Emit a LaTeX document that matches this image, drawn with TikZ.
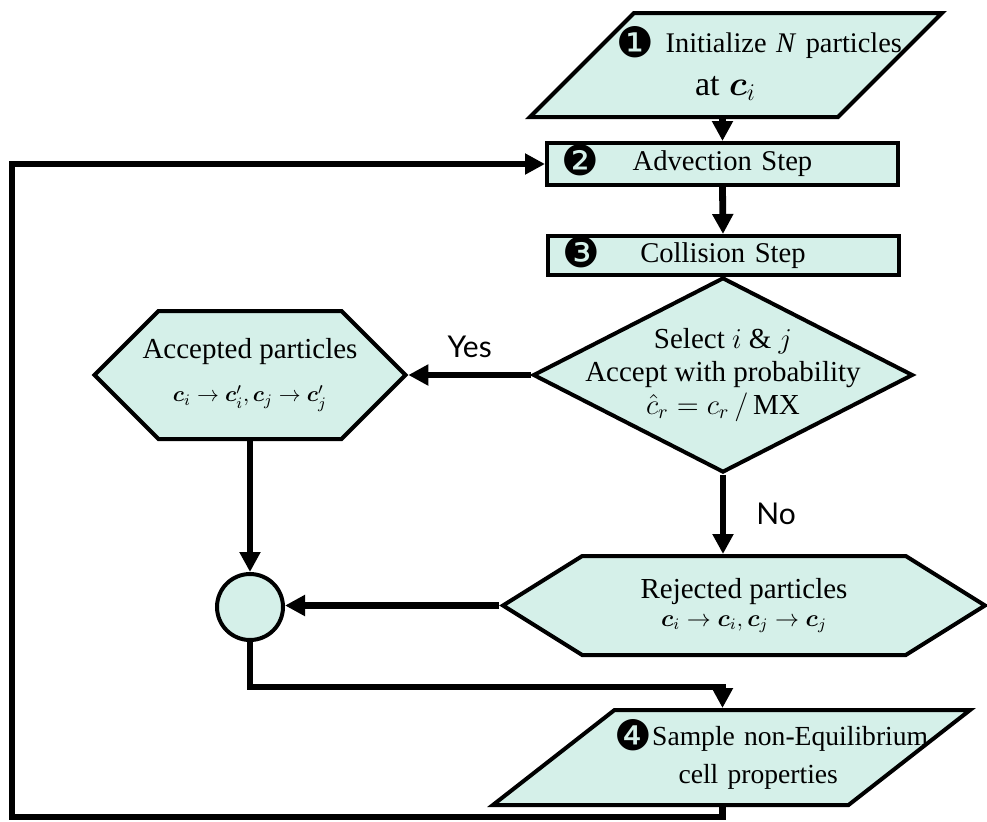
\documentclass[tikz,border=0pt]{standalone}
\usepackage{amsmath,bm}
\usepackage{fontspec}
\setmainfont{Liberation Serif}
\newfontfamily\dingfont{DejaVu Sans}
\newfontfamily\yesnofont{Lato}
\usetikzlibrary{shapes.geometric,shapes.symbols,arrows.meta,positioning}
\definecolor{cellfill}{RGB}{213,240,233}
\newcommand\stepnum[1]{\smash{\raisebox{-2.5pt}{\dingfont\fontsize{21}{21}\selectfont #1}}}

\begin{document}
\begin{tikzpicture}[x=0.5pt,y=-0.5pt,
    every node/.style={inner sep=0pt},
    box/.style={draw,line width=2pt,fill=cellfill},
    stepbox/.style={box,rectangle,minimum width=175.5pt,text width=161pt,font=\fontsize{14.3}{17}\selectfont},
    iobox/.style={box,trapezium,trapezium stretches body,align=left},
    hexbox/.style={box,signal,signal to=west and east,align=center},
    inside/.style={align=center,font=\fontsize{14.5}{16.5}\selectfont},
    flow/.style={line width=3.4pt,-{Triangle[length=10pt,width=10pt]}},
    answer/.style={font=\yesnofont\fontsize{15}{18}\selectfont}]
    \useasboundingbox (0,0) rectangle (987,821);

    % the steps
    \node[iobox,font=\fontsize{14.2}{21.5}\selectfont,trapezium left angle=45,trapezium right angle=135,text width=102pt,text height=19.5pt,text depth=32.5pt] (init) at (736,65)
        {\hspace*{-9pt}\mbox{\stepnum{❶}\hspace{6pt}Initialize \textit{N} particles}\\ \hspace*{30.5pt}{\fontsize{17}{20}\selectfont at $\bm{c}_i$}};
    \node[stepbox,minimum height=21pt] (adv) at (722.5,164) {\rlap{\stepnum{❷}}\hfill Advection Step\hfill\mbox{}};
    \node[stepbox,minimum height=19.5pt] (coll) at (723,255.5) {\rlap{\stepnum{❸}}\hfill Collision Step\hfill\mbox{}};
    \node[box,diamond,minimum width=190pt,minimum height=97.5pt,
        label={[inside]center:{Select $i$ \& $j$\\ Accept with probability\\ $\hat{c}_r = c_r\,/\,\mathrm{MX}$}}] (sel) at (723,375) {};
    \node[hexbox,signal pointer angle=90,minimum width=155.5pt,minimum height=64pt,
        label={[inside]center:{Accepted particles\\[5pt] {\fontsize{11}{13}\selectfont $\bm{c}_i \to \bm{c}'_i, \bm{c}_j \to \bm{c}'_j$}}}] (acc) at (250,375) {};
    \node[hexbox,signal pointer angle=64,minimum width=241pt,minimum height=49.5pt] (rej) at (744,605.5)
        {{\fontsize{14.5}{17}\selectfont Rejected particles}\\[2pt] {\fontsize{11.5}{13}\selectfont $\bm{c}_i \to \bm{c}_i, \bm{c}_j \to \bm{c}_j$}};
    \node[box,circle,minimum size=33pt] (join) at (250,607) {};
    \node[iobox,font=\fontsize{13.8}{19}\selectfont,trapezium left angle=38,trapezium right angle=142,text width=117pt,text height=17.5pt,text depth=30pt] (sample) at (731.5,757.5)
        {\mbox{\stepnum{❹}Sample non-Equilibrium}\\ \hspace*{32pt}cell properties};

    % connectors
    \draw[flow] (adv.north |- init.south) -- (adv.north);
    \draw[flow] (adv.south) -- (coll.north);
    \draw[flow] (sel.west) -- node[answer,above=7pt] (yes) {Yes} (acc.east);
    \draw[flow] (sel.south) -- node[answer,right=15pt] (no) {No} (sel.south |- rej.north);
    \draw[flow] (acc.south) -- (join.north);
    \draw[flow] (rej.west) -- (rej.west -| join.east);
    \draw[flow] (join.south) -- ++(0,45) -| (adv.center |- sample.north);
    \coordinate (loop) at (12,817);
    \draw[flow] (adv.center |- sample.south) |- (loop) |- (adv.west);
\end{tikzpicture}
\end{document}
